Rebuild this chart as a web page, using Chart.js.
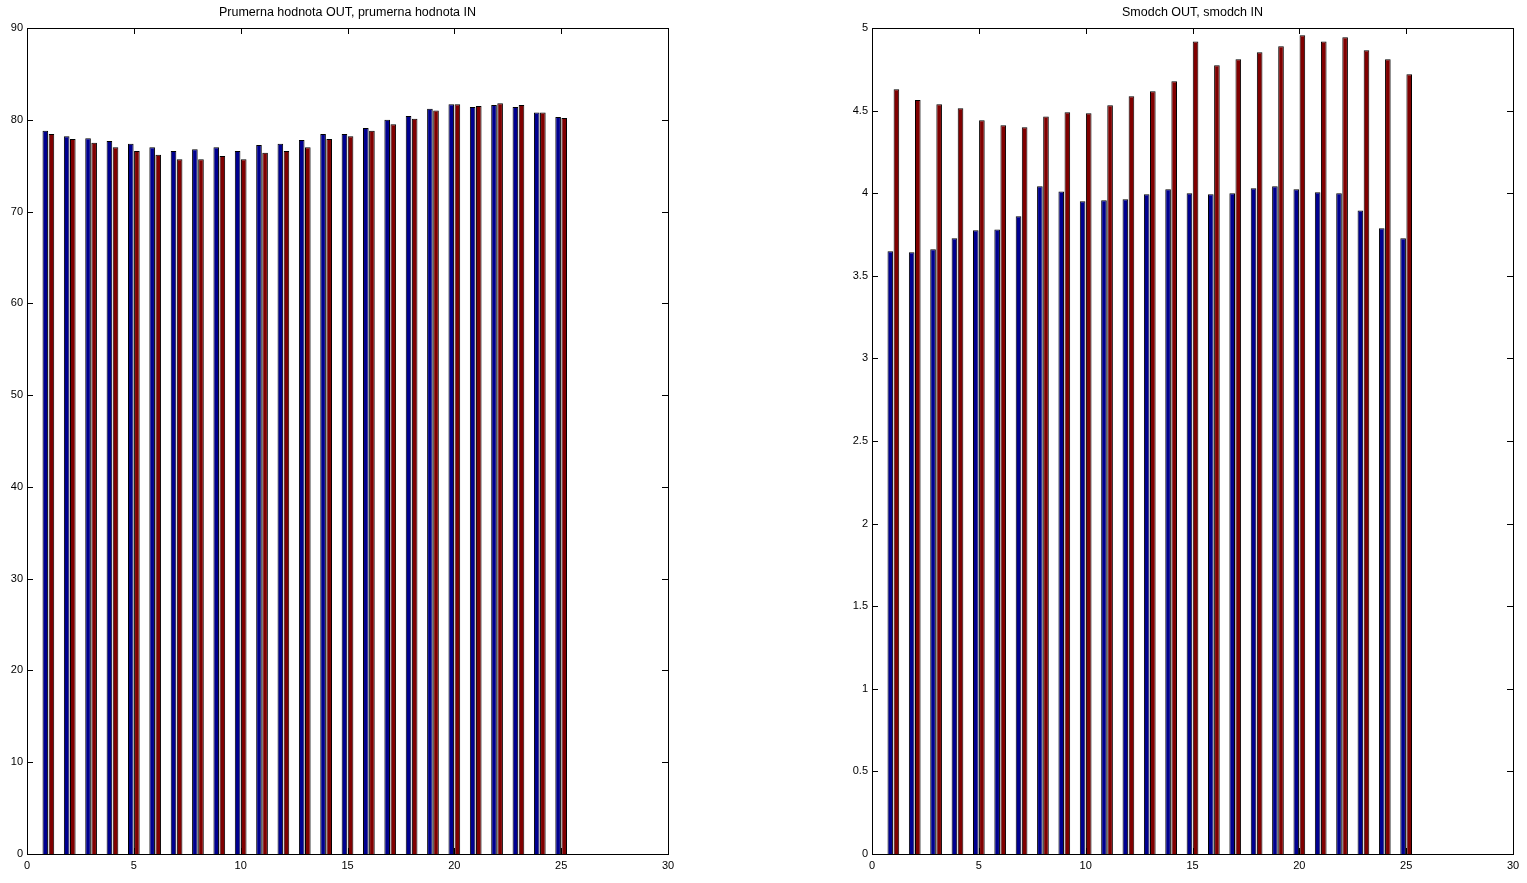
<!DOCTYPE html>
<html lang="en">
<head>
<meta charset="UTF-8">
<title>Prumerna hodnota / Smodch</title>
<style>
    html, body { margin: 0; padding: 0; background: #fff; overflow: hidden; }
    #wrap { position: relative; width: 1527px; height: 883px; }
    .plot { position: absolute; top: 0; width: 695px; height: 883px; }
    #left-plot { left: 0; }
    #right-plot { left: 845px; }
</style>
</head>
<body>

<div id="wrap">
    <div class="plot" id="left-plot"><canvas id="meanChart"></canvas></div>
    <div class="plot" id="right-plot"><canvas id="stdChart"></canvas></div>
</div>

<script src="https://cdn.jsdelivr.net/npm/chart.js"></script>

<script>
    // group positions 1..25
    const groups = [1, 2, 3, 4, 5, 6, 7, 8, 9, 10, 11, 12, 13, 14, 15, 16, 17, 18, 19, 20, 21, 22, 23, 24, 25];

    // Prumerna hodnota
    const meanOut = [78.8, 78.2, 78.0, 77.7, 77.4, 77.0, 76.6, 76.8, 77.0, 76.6, 77.25, 77.4, 77.8,
                     78.45, 78.45, 79.1, 80.0, 80.4, 81.2, 81.7, 81.4, 81.6, 81.4, 80.8, 80.3];
    const meanIn  = [78.45, 77.9, 77.5, 77.0, 76.6, 76.2, 75.7, 75.7, 76.05, 75.7, 76.4, 76.6, 77.0,
                     77.9, 78.2, 78.8, 79.5, 80.1, 81.0, 81.7, 81.5, 81.8, 81.6, 80.8, 80.2];

    // Smodch
    const stdOut = [3.648, 3.642, 3.66, 3.727, 3.775, 3.781, 3.86, 4.042, 4.011, 3.951, 3.957, 3.963, 3.993,
                    4.024, 4.0, 3.993, 4.0, 4.03, 4.042, 4.024, 4.005, 4.0, 3.896, 3.788, 3.727];
    const stdIn  = [4.629, 4.564, 4.538, 4.514, 4.441, 4.411, 4.399, 4.465, 4.49, 4.484, 4.532, 4.587, 4.617,
                    4.677, 4.919, 4.774, 4.811, 4.853, 4.889, 4.956, 4.919, 4.944, 4.865, 4.811, 4.72];

    const xTicks = { min: 0, max: 30, step: 5 };
    const meanAxis = { min: 0, max: 90, step: 10 };
    const stdAxis = { min: 0, max: 5, step: 0.5 };

    const BLUE = '#00008f';
    const RED = '#800000';
    const FONT = { family: '"Liberation Sans", Arial, sans-serif', size: 11 };

    // matlab-ish box with inward ticks on all four sides
    const boxPlugin = {
        id: 'matlabBox',
        afterDatasetsDraw(chart) {
            const { ctx, chartArea: a, scales } = chart;
            const len = 6;
            ctx.save();
            ctx.strokeStyle = '#000';
            ctx.lineWidth = 1;
            ctx.beginPath();
            scales.x.ticks.forEach(t => {
                const px = Math.round(scales.x.getPixelForValue(t.value)) + 0.5;
                ctx.moveTo(px, a.bottom); ctx.lineTo(px, a.bottom - len);
                ctx.moveTo(px, a.top); ctx.lineTo(px, a.top + len);
            });
            scales.y.ticks.forEach(t => {
                const py = Math.round(scales.y.getPixelForValue(t.value)) + 0.5;
                ctx.moveTo(a.left, py); ctx.lineTo(a.left + len, py);
                ctx.moveTo(a.right, py); ctx.lineTo(a.right - len, py);
            });
            ctx.stroke();
            ctx.strokeRect(Math.round(a.left) + 0.5, Math.round(a.top) + 0.5,
                           Math.round(a.right - a.left), Math.round(a.bottom - a.top));
            ctx.restore();
        }
    };

    function toPoints(values) {
        return groups.map((g, i) => ({ x: g, y: values[i] }));
    }

    function makeChart(id, title, outVals, inVals, yAxis) {
        const ctx = document.getElementById(id).getContext('2d');
        return new Chart(ctx, {
            type: 'bar',
            data: {
                datasets: [
                    { label: 'OUT', data: toPoints(outVals), backgroundColor: BLUE,
                      borderColor: '#000', borderWidth: 1 },
                    { label: 'IN', data: toPoints(inVals), backgroundColor: RED,
                      borderColor: '#000', borderWidth: 1 }
                ]
            },
            options: {
                responsive: true,
                maintainAspectRatio: false,
                animation: false,
                devicePixelRatio: 1,
                categoryPercentage: 0.571,
                barPercentage: 0.92,
                layout: { padding: 0 },
                plugins: {
                    legend: { display: false },
                    tooltip: { enabled: false },
                    title: {
                        display: true, text: title, color: '#000',
                        font: { ...FONT, size: 12.5, weight: 'normal' },
                        padding: { top: 5, bottom: 8 }
                    }
                },
                scales: {
                    x: {
                        type: 'linear', offset: false,
                        min: xTicks.min, max: xTicks.max,
                        grid: { display: false, drawTicks: false, offset: false },
                        border: { display: false },
                        ticks: { stepSize: xTicks.step, color: '#000', font: FONT, padding: 5,
                                 maxRotation: 0 },
                        afterFit: s => { s.height = 29; }
                    },
                    y: {
                        min: yAxis.min, max: yAxis.max,
                        grid: { display: false, drawTicks: false },
                        border: { display: false },
                        ticks: { stepSize: yAxis.step, color: '#000', font: FONT, padding: 4,
                                 callback: v => String(v) },
                        afterFit: s => { s.width = 27; }
                    },
                    yRight: {
                        position: 'right', min: 0, max: 1,
                        grid: { display: false, drawTicks: false },
                        border: { display: false },
                        ticks: { display: false },
                        afterFit: s => { s.width = 27; }
                    }
                }
            },
            plugins: [boxPlugin]
        });
    }

    makeChart('meanChart', 'Prumerna hodnota OUT, prumerna hodnota IN', meanOut, meanIn, meanAxis);
    makeChart('stdChart', 'Smodch OUT, smodch IN', stdOut, stdIn, stdAxis);
</script>

</body>
</html>
